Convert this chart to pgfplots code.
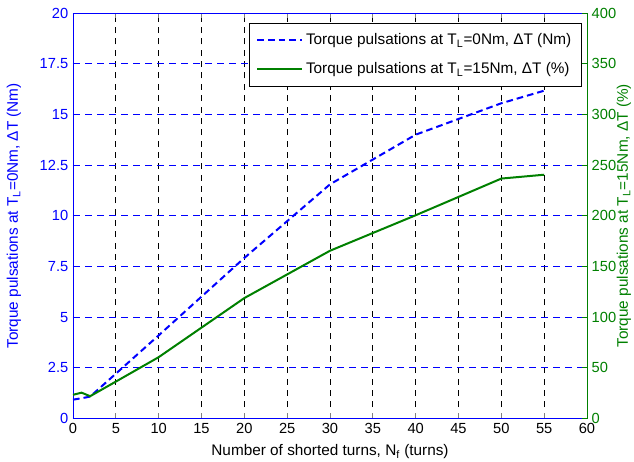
\documentclass[border=0pt]{standalone}
\usepackage{fontspec}
\setmainfont{Liberation Sans}
\usepackage{pgfplots}
\pgfplotsset{compat=1.18}
\definecolor{mblue}{RGB}{0,0,255}
\definecolor{mgreen}{RGB}{0,128,0}

\pgfplotsset{
  common/.style={
    scale only axis, width=385.5pt, height=304.1pt,
    font=\fontsize{11}{13.2}\selectfont,
    label style={font=\fontsize{11.5}{13.8}\selectfont},
    /pgf/number format/assume math mode=true,
    xmin=0, xmax=60,
    tick align=inside, major tick length=4pt,
    every tick/.append style={line width=0.6pt},
    axis line style={line width=0.6pt},
  },
}

\begin{document}
\begin{tikzpicture}
\path[use as bounding box] (-54.75pt,-31.875pt) rectangle (420.75pt,313.875pt);

% left axis: torque pulsations at no load (Nm)
\begin{axis}[common,
  ymin=0, ymax=20,
  xtick={0,5,...,60}, ytick={0,2.5,...,20},
  ytick pos=left,
  yticklabel style={mblue},
  ytick style={mblue},
  y axis line style={mblue},
  xmajorgrids, ymajorgrids,
  x grid style={black, line width=0.5pt, dash pattern=on 4.5pt off 4pt},
  y grid style={mblue, line width=0.5pt, dash pattern=on 5.25pt off 3.75pt},
  xlabel={Number of shorted turns, N\textsubscript{f} (turns)},
  xlabel style={at={(axis description cs:0.5,-0.082)}, anchor=center},
  ylabel={Torque pulsations at T\textsubscript{L}=0Nm, ΔT (Nm)},
  ylabel style={mblue, at={(axis description cs:-0.115,0.5)}, anchor=center},
]
\addplot[mblue, line width=1.5pt, dash pattern=on 5pt off 3pt] coordinates {
  (0,0.93) (1,1.0) (2,1.08) (5,2.21) (10,4.1) (20,7.92) (30,11.55)
  (40,14.0) (50,15.55) (55,16.17)
};
\end{axis}

% right axis: torque pulsations at 15 Nm load (%)
\begin{axis}[common,
  ymin=0, ymax=400,
  ytick={0,50,...,400},
  axis x line=none,
  axis y line*=right,
  yticklabel style={mgreen},
  ytick style={mgreen},
  y axis line style={mgreen},
  ylabel={Torque pulsations at T\textsubscript{L}=15Nm, ΔT (\%)},
  ylabel style={mgreen, at={(axis description cs:1.072,0.5)}, anchor=center},
  legend style={at={(axis description cs:0.9897,0.9746)}, anchor=north east,
    draw=black, fill=white, line width=0.6pt, inner xsep=5.5pt, inner ysep=5.5pt,
    row sep=8pt, font=\fontsize{11.5}{13.8}\selectfont},
  legend cell align=left,
  legend image code/.code={\draw[#1] (0pt,0pt) -- (33.75pt,0pt);},
]
\addlegendimage{mblue, line width=1.5pt, dash pattern=on 5pt off 3pt}
\addlegendentry{Torque pulsations at T\textsubscript{L}=0Nm, ΔT (Nm)}
\addplot[mgreen, line width=1.5pt] coordinates {
  (0,23.4) (1,25.5) (2,22) (5,36.4) (10,60.5) (20,118.8) (30,165.5)
  (40,200.5) (50,236.7) (55,240.5)
};
\addlegendentry{Torque pulsations at T\textsubscript{L}=15Nm, ΔT (\%)}
\end{axis}
\end{tikzpicture}
\end{document}
